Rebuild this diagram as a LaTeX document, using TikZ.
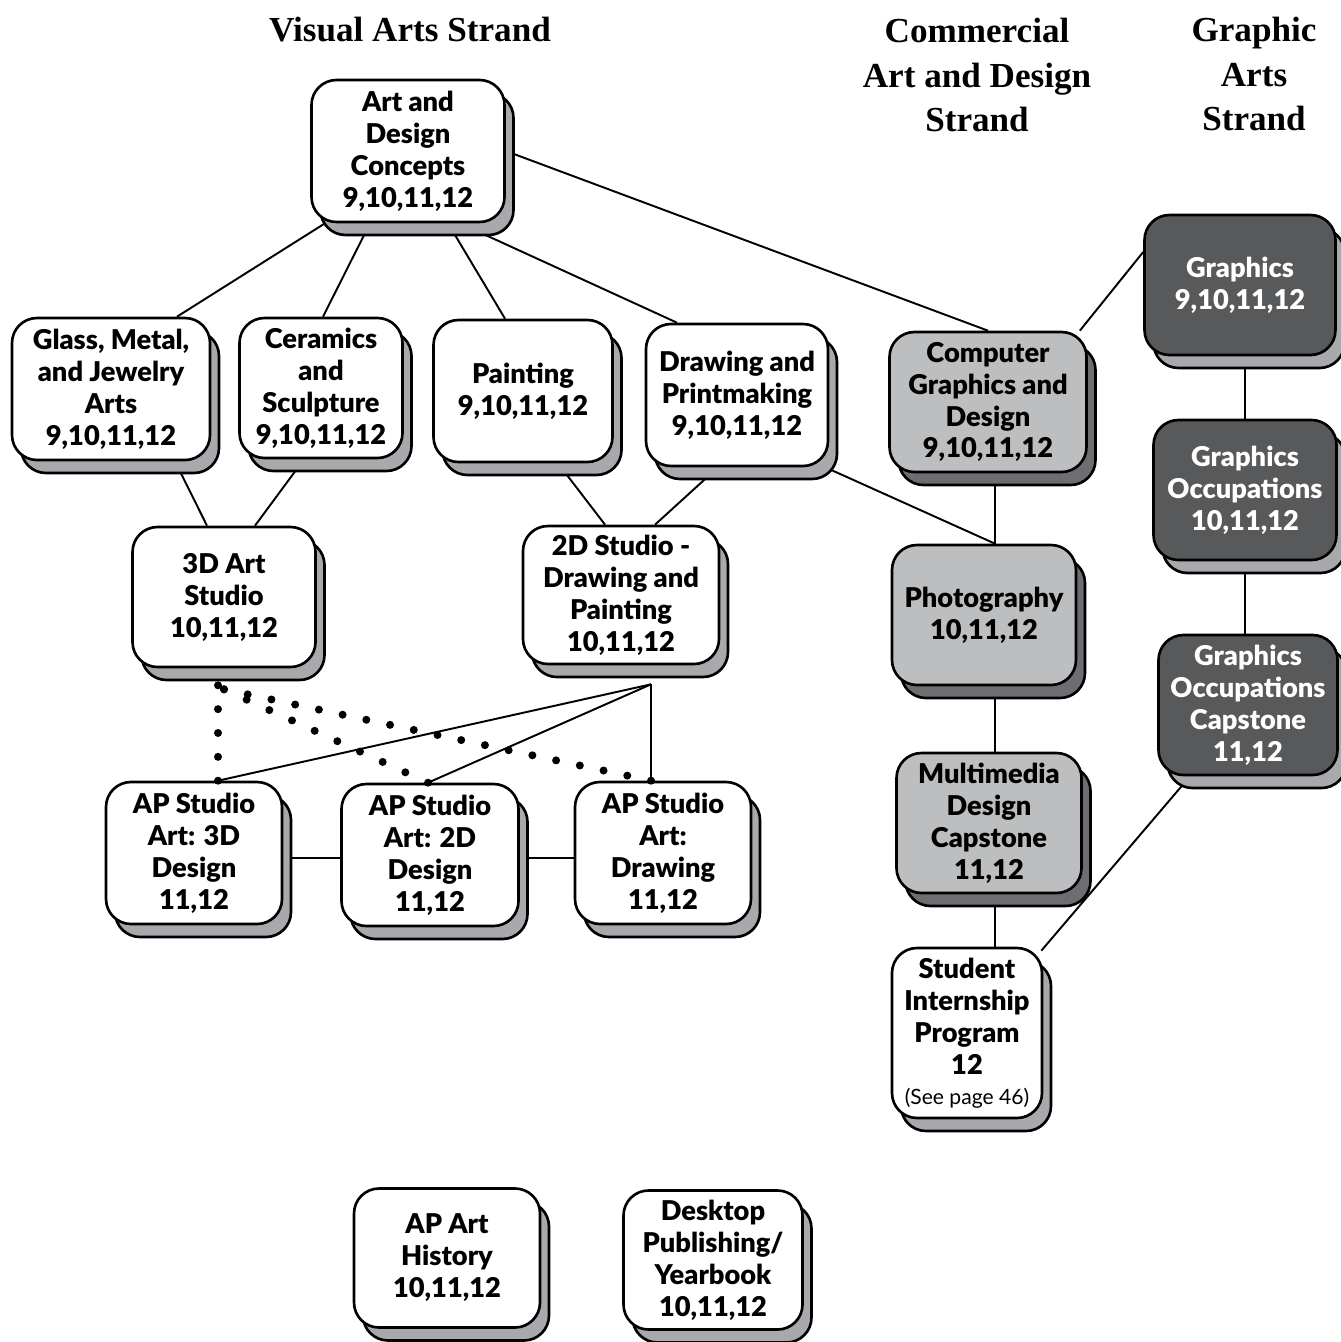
\documentclass[tikz,border=0pt]{standalone}
\usepackage{fontspec}
\setmainfont{Liberation Serif}
\newfontfamily\boxfont{Lato}[BoldFont={Lato Black}]
\usetikzlibrary{shadows,backgrounds,calc}

\definecolor{shadelt}{HTML}{A7A9AC}
\definecolor{shadedk}{HTML}{6D6E71}
\definecolor{commfill}{HTML}{BCBEC0}
\definecolor{grafill}{HTML}{58595B}

\tikzset{
  course/.style={draw, line width=1.5pt, rounded corners=0.5cm, align=center, inner sep=1pt,
    font=\boxfont\bfseries\fontsize{15.5}{18.2}\selectfont},
  sz/.style 2 args={minimum width=#1*0.02cm, minimum height=#2*0.02cm},
  visual/.style={course, fill=white,
    copy shadow={shadow xshift=0.18cm, shadow yshift=-0.26cm, fill=shadelt, draw=black, line width=1.5pt}},
  commercial/.style={course, fill=commfill,
    copy shadow={shadow xshift=0.18cm, shadow yshift=-0.26cm, fill=shadedk, draw=black, line width=1.5pt}},
  graphic/.style={course, fill=grafill, text=white,
    copy shadow={shadow xshift=0.18cm, shadow yshift=-0.26cm, fill=shadelt, draw=black, line width=1.5pt}},
  strand/.style={align=center, font=\bfseries\fontsize{20}{25.6}\selectfont},
  link/.style={line width=1.1pt}
}

\begin{document}
\begin{tikzpicture}[x=0.02cm, y=-0.02cm]
  \useasboundingbox (0,0) rectangle (1341,1342);

  % strand headings
  \node[strand] (vistitle) at (410,30) {Visual Arts Strand};
  \node[strand] (comtitle) at (977,75) {Commercial\\Art and Design\\Strand};
  \node[strand] (gratitle) at (1254,74) {Graphic\\Arts\\Strand};

  % visual arts strand
  \node[visual, sz={193}{142}] (adc) at (408,151) {Art and\\Design\\Concepts\\9,10,11,12};
  \node[visual, sz={198}{142}] (glass) at (111,389) {Glass, Metal,\\and Jewelry\\Arts\\9,10,11,12};
  \node[visual, sz={163}{140}] (ceram) at (321,388) {Ceramics\\and\\Sculpture\\9,10,11,12};
  \node[visual, sz={179}{142}] (paint) at (523,391) {Painting\\9,10,11,12};
  \node[visual, sz={182}{142}] (drawpm) at (737,395) {Drawing and\\Printmaking\\9,10,11,12};
  \node[visual, sz={183}{140}] (threed) at (224,597) {3D Art\\Studio\\10,11,12};
  \node[visual, sz={196}{138}] (twod) at (621,595) {2D Studio -\\Drawing and\\Painting\\10,11,12};
  \node[visual, sz={176}{142}] (ap3d) at (194,853) {AP Studio\\Art: 3D\\Design\\11,12};
  \node[visual, sz={177}{142}] (ap2d) at (430,855) {AP Studio\\Art: 2D\\Design\\11,12};
  \node[visual, sz={176}{142}] (apdraw) at (663,853) {AP Studio\\Art:\\Drawing\\11,12};
  \node[visual, sz={186}{139}] (aphist) at (447,1258) {AP Art\\History\\10,11,12};
  \node[visual, sz={179}{139}] (dtp) at (713,1260) {Desktop\\Publishing/\\Yearbook\\10,11,12};

  % commercial art and design strand
  \node[commercial, sz={197}{140}] (cgd) at (988,402) {Computer\\Graphics and\\Design\\9,10,11,12};
  \node[commercial, sz={184}{140}] (photo) at (984,615) {Photography\\10,11,12};
  \node[commercial, sz={185}{140}] (mmd) at (989,823) {Multimedia\\Design\\Capstone\\11,12};
  \node[visual, sz={150}{170}] (intern) at (967,1033)
    {Student\\Internship\\Program\\12\\[-1pt]{\mdseries\fontsize{12}{16}\selectfont(See page 46)}};

  % graphic arts strand
  \node[graphic, sz={191}{140}] (graphics) at (1240,285) {Graphics\\9,10,11,12};
  \node[graphic, sz={183}{140}] (gocc) at (1245,490) {Graphics\\Occupations\\10,11,12};
  \node[graphic, sz={179}{140}] (gocap) at (1248,705) {Graphics\\Occupations\\Capstone\\11,12};

  \coordinate (hub) at ($(twod.south)+(30,19)$);
  \coordinate (vstart) at ($(threed.south)+(-6,17)$);
  \coordinate (dstart) at ($(threed.south)+(0,21)$);
  \coordinate (ap3dtop) at ($(ap3d.north)+(24,0)$);
  \coordinate (ap2dtop) at ($(ap2d.north)+(-2,0)$);
  \coordinate (apdrtop) at ($(apdraw.north)+(-12,0)$);

  \begin{pgfonlayer}{background}
    \draw[link] ($(adc.south)+(-83,0)$) -- ($(glass.north)+(66,0)$);
    \draw[link] ($(adc.south)+(-38,0)$) -- ($(ceram.north)+(2,0)$);
    \draw[link] ($(adc.south)+(40,0)$) -- ($(paint.north)+(-18,0)$);
    \draw[link] ($(adc.south)+(52,0)$) -- ($(drawpm.north)+(-60,0)$);
    \draw[link] (adc.east) -- (cgd.north);
    \draw[link] ($(glass.south)+(64,0)$) -- ($(threed.north)+(-17,0)$);
    \draw[link] ($(ceram.south)+(-17,0)$) -- ($(threed.north)+(31,0)$);
    \draw[link] ($(paint.south)+(35,0)$) -- ($(twod.north)+(-16,0)$);
    \draw[link] ($(drawpm.south)+(-19,0)$) -- ($(twod.north)+(34,0)$);
    \draw[link] ($(drawpm.south east)+(-4,0)$) -- ($(photo.north)+(11,0)$);
    \draw[link] ($(cgd.south)+(7,0)$) -- ($(photo.north)+(11,0)$);
    \draw[link] ($(graphics.west)+(0,-33)$) -- ($(cgd.north east)+(-8,0)$);
    \draw[link] ($(graphics.south)+(5,0)$) -- (gocc.north);
    \draw[link] (gocc.south) -- ($(gocap.north)+(-3,0)$);
    \draw[link] ($(gocap.south)+(-58,0)$) -- ($(intern.north east)+(-2,4)$);
    \draw[link] ($(photo.south)+(11,0)$) -- ($(mmd.north)+(6,0)$);
    \draw[link] ($(mmd.south)+(6,0)$) -- ($(intern.north)+(28,0)$);
    \draw[link] (hub) -- (ap3dtop);
    \draw[link] (hub) -- (ap2dtop);
    \draw[link] (hub) -- (apdrtop);
    \draw[link] ($(ap3d.east)+(0,5)$) -- ($(ap2d.west)+(0,3)$);
    \draw[link] ($(ap2d.east)+(0,3)$) -- ($(apdraw.west)+(0,5)$);
  \end{pgfonlayer}

  % dotted links to the AP studio courses
  \foreach \a/\b/\n in {vstart/ap3dtop/4, dstart/ap2dtop/9, dstart/apdrtop/18}{
    \foreach \i in {0,...,\n}{
      \fill ($(\a)!{\i/\n}!(\b)$) circle [radius=0.08cm];
    }
  }
\end{tikzpicture}
\end{document}
